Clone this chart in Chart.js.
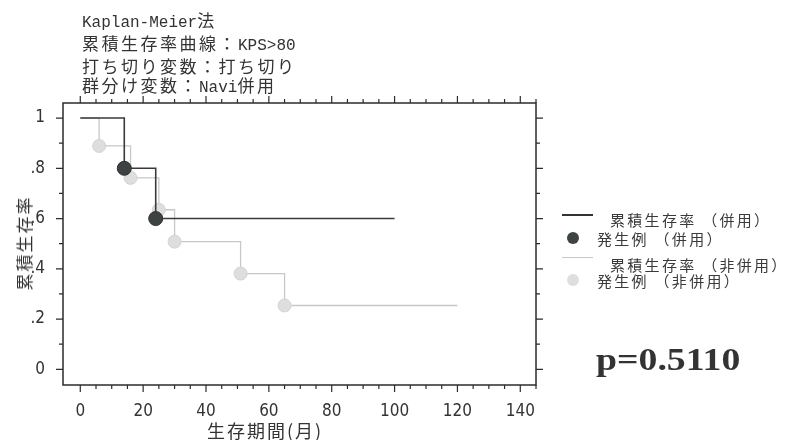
<!DOCTYPE html>
<html>
<head>
<meta charset="utf-8">
<script src="https://cdn.jsdelivr.net/npm/chart.js@4/dist/chart.umd.min.js"></script>
<style>
  body { margin: 0; background: #fff; }
  #wrap { position: relative; width: 791px; height: 440px; overflow: hidden; }
  .txt { position: absolute; color: #333; white-space: nowrap; font-family: "Noto Sans CJK JP", sans-serif; }
  #title { left: 82px; top: 10px; line-height: 19px; font-size: 17px; }
  #title .cj { letter-spacing: 2.5px; }
  #title .la { font-family: "Liberation Mono", "DejaVu Sans Mono", monospace; font-size: 16px; }
  .leg { font-size: 15px; line-height: 18px; letter-spacing: 2.3px; color: #3a3a3a; }
  .mark { position: absolute; }
</style>
</head>
<body>
<div id="wrap">
  <canvas id="km" width="791" height="440"></canvas>
  <div class="txt" id="title"></div>
  <div class="txt" id="xtitle" style="left:207px; top:420px; font-size:18px; line-height:20px; letter-spacing:2px;">生存期間(月)</div>
  <div class="txt" id="ytitle" style="left:24px; top:243px; font-size:17px; line-height:20px; letter-spacing:2px; transform:translate(-50%,-50%) rotate(-90deg);">累積生存率</div>

  <div class="mark" style="left:562px; top:214px; width:31px; height:2px; background:#333;"></div>
  <div class="txt leg" style="left:610px; top:211px;">累積生存率 （併用）</div>
  <div class="mark" style="left:567px; top:232px; width:12px; height:12px; border-radius:50%; background:#3d4242;"></div>
  <div class="txt leg" style="left:597px; top:230px;">発生例 （併用）</div>
  <div class="mark" style="left:562px; top:257px; width:31px; height:1px; background:#c8c8c8;"></div>
  <div class="txt leg" style="left:610px; top:256px;">累積生存率 （非併用）</div>
  <div class="mark" style="left:567px; top:274px; width:12px; height:12px; border-radius:50%; background:#dedede;"></div>
  <div class="txt leg" style="left:597px; top:272px;">発生例 （非併用）</div>

  <div class="txt" style="left:596px; top:343px; font-family:'Liberation Serif','Times New Roman',serif; font-weight:bold; font-size:32px; line-height:32px; transform:scaleX(1.18); transform-origin:left top;">p=0.5110</div>
</div>
<script>
// title lines
const titleLines = ['Kaplan-Meier法', '累積生存率曲線：KPS>80', '打ち切り変数：打ち切り', '群分け変数：Navi併用']

// 併用 (combined)
const timesUse = [0, 14, 24, 100]
const survUse = [1, 0.8, 0.6, 0.6]
const eventTimesUse = [14, 24]
const eventSurvUse = [0.8, 0.6]

// 非併用 (not combined)
const timesNon = [0, 6, 16, 25, 30, 51, 65, 120]
const survNon = [1, 0.889, 0.762, 0.635, 0.508, 0.381, 0.254, 0.254]
const eventTimesNon = [6, 16, 25, 30, 51, 65]
const eventSurvNon = [0.889, 0.762, 0.635, 0.508, 0.381, 0.254]

// axes
const xTicks = [0, 20, 40, 60, 80, 100, 120, 140]
const yTicks = [0, 0.2, 0.4, 0.6, 0.8, 1]
const yTickLabels = ['0', '.2', '.4', '.6', '.8', '1']
const xMinor = 5
const yMinor = 0.1

// build title with latin runs in a mono font
document.getElementById('title').innerHTML = titleLines.map(line =>
  line.replace(/([\x00-\x7f]+)|([^\x00-\x7f]+)/g, (m, la, cj) =>
    la ? '<span class="la">' + la + '</span>' : '<span class="cj">' + cj + '</span>')
).join('<br>')

const toPts = (xs, ys) => xs.map((x, i) => ({ x: x, y: ys[i] }))

// frame + outward ticks on all four sides
const frameTicks = {
  id: 'frameTicks',
  afterDraw(chart) {
    const ctx = chart.ctx
    const a = chart.chartArea
    const xs = chart.scales.x
    const ys = chart.scales.y
    ctx.save()
    ctx.strokeStyle = '#2b2b2b'
    ctx.lineWidth = 1.5
    ctx.strokeRect(a.left, a.top, a.right - a.left, a.bottom - a.top)
    ctx.lineWidth = 1.2
    ctx.beginPath()
    for (let v = 0; v <= 145; v += xMinor) {
      const len = xTicks.includes(v) ? 7 : 4
      const px = xs.getPixelForValue(v)
      ctx.moveTo(px, a.bottom); ctx.lineTo(px, a.bottom + len)
      ctx.moveTo(px, a.top); ctx.lineTo(px, a.top - len)
    }
    for (let i = 0; i <= 10; i++) {
      const v = i * yMinor
      const len = i % 2 == 0 ? 7 : 4
      const py = ys.getPixelForValue(v)
      ctx.moveTo(a.left, py); ctx.lineTo(a.left - len, py)
      ctx.moveTo(a.right, py); ctx.lineTo(a.right + len, py)
    }
    ctx.stroke()
    ctx.restore()
  }
}

const tickFont = { family: "'Liberation Sans Narrow', 'DejaVu Sans Condensed', sans-serif", size: 17 }

new Chart(document.getElementById('km'), {
  type: 'line',
  data: {
    datasets: [
      {
        label: '発生例（併用）',
        data: toPts(eventTimesUse, eventSurvUse),
        showLine: false,
        pointRadius: 7,
        pointBackgroundColor: '#3d4242',
        pointBorderColor: '#2e3232',
        pointBorderWidth: 1
      },
      {
        label: '累積生存率（併用）',
        data: toPts(timesUse, survUse),
        stepped: 'before',
        borderColor: '#3a3a3a',
        borderWidth: 1.6,
        pointRadius: 0,
        fill: false
      },
      {
        label: '発生例（非併用）',
        data: toPts(eventTimesNon, eventSurvNon),
        showLine: false,
        pointRadius: 6.5,
        pointBackgroundColor: '#dedede',
        pointBorderColor: '#d2d2d2',
        pointBorderWidth: 1
      },
      {
        label: '累積生存率（非併用）',
        data: toPts(timesNon, survNon),
        stepped: 'before',
        borderColor: '#c8c8c8',
        borderWidth: 1.3,
        pointRadius: 0,
        fill: false
      }
    ]
  },
  options: {
    responsive: false,
    animation: false,
    layout: { padding: { top: 103, right: 255, left: 0, bottom: 0 } },
    plugins: { legend: { display: false }, tooltip: { enabled: false } },
    scales: {
      x: {
        type: 'linear',
        min: -5.5,
        max: 145,
        grid: { display: false, drawTicks: false },
        border: { display: false },
        afterBuildTicks: s => { s.ticks = xTicks.map(v => ({ value: v })) },
        afterFit: s => { s.height = 55 },
        ticks: { color: '#333', font: tickFont, padding: 16, maxRotation: 0 }
      },
      y: {
        type: 'linear',
        min: -0.0625,
        max: 1.06,
        grid: { display: false, drawTicks: false },
        border: { display: false },
        afterBuildTicks: s => { s.ticks = yTicks.map(v => ({ value: v })) },
        afterFit: s => { s.width = 63 },
        ticks: {
          color: '#333',
          font: tickFont,
          padding: 18,
          callback: v => yTickLabels[yTicks.indexOf(v)]
        }
      }
    }
  },
  plugins: [frameTicks]
})
</script>
</body>
</html>
